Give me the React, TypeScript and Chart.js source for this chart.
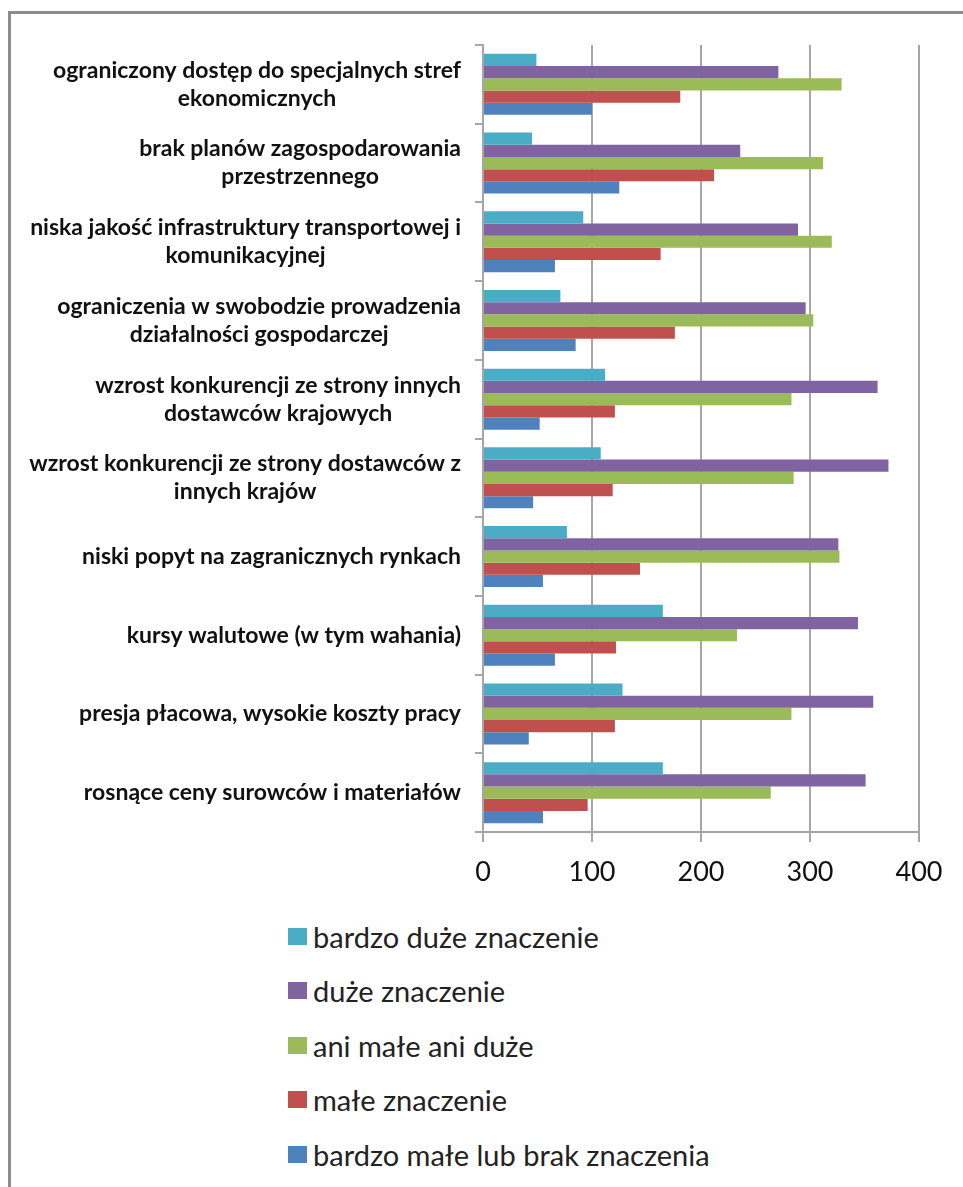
import React, { useEffect, useRef } from "react";
import { Chart, registerables } from "chart.js";

Chart.register(...registerables);

// Categories listed top to bottom, with their line breaks
const CATEGORY_LINES: string[][] = [
  ["ograniczony dostęp do specjalnych stref", "ekonomicznych"],
  ["brak planów zagospodarowania", "przestrzennego"],
  ["niska jakość infrastruktury transportowej i", "komunikacyjnej"],
  ["ograniczenia w swobodzie prowadzenia", "działalności gospodarczej"],
  ["wzrost konkurencji ze strony innych", "dostawców krajowych"],
  ["wzrost konkurencji ze strony dostawców z", "innych krajów"],
  ["niski popyt na zagranicznych rynkach"],
  ["kursy walutowe (w tym wahania)"],
  ["presja płacowa, wysokie koszty pracy"],
  ["rosnące ceny surowców i materiałów"],
];
const CATEGORIES = CATEGORY_LINES.map((l) => l.join(" "));

const SERIES_NAMES = [
  "bardzo duże znaczenie",
  "duże znaczenie",
  "ani małe ani duże",
  "małe znaczenie",
  "bardzo małe lub brak znaczenia",
];
const BARDZO_DUZE = [49, 45, 92, 71, 112, 108, 77, 165, 128, 165];
const DUZE = [271, 236, 289, 296, 362, 372, 326, 344, 358, 351];
const ANI_MALE_ANI_DUZE = [329, 312, 320, 303, 283, 285, 327, 233, 283, 264];
const MALE = [181, 212, 163, 176, 121, 119, 144, 122, 121, 96];
const BARDZO_MALE = [100, 125, 66, 85, 52, 46, 55, 66, 42, 55];
const SERIES_VALUES = [BARDZO_DUZE, DUZE, ANI_MALE_ANI_DUZE, MALE, BARDZO_MALE];
const SERIES_COLORS = ["#4BACC6", "#8064A2", "#9BBB59", "#C0504D", "#4F81BD"];

const X_MIN = 0;
const X_MAX = 400;
const X_STEP = 100;

const LABEL_FONT = "bold 23px Lato";
const LABEL_LINE_H = 28;
const GRID_COLOR = "#a6a6a6";

const categoryLabelPlugin = {
  id: "categoryLabels",
  afterDraw(chart: any) {
    const ctx = chart.ctx as CanvasRenderingContext2D;
    const yScale = chart.scales.y;
    ctx.save();
    ctx.font = LABEL_FONT;
    ctx.fillStyle = "#111";
    ctx.textBaseline = "middle";
    ctx.textAlign = "center";
    const rightEdge = yScale.right - 22;
    CATEGORY_LINES.forEach((lines, i) => {
      const cy = yScale.getPixelForValue(i);
      const w = Math.max(...lines.map((l) => ctx.measureText(l).width));
      const cx = rightEdge - w / 2;
      lines.forEach((ln, j) => {
        ctx.fillText(ln, cx, cy + (j - (lines.length - 1) / 2) * LABEL_LINE_H);
      });
    });
    ctx.restore();
  },
};

export default function App() {
  const canvasRef = useRef<HTMLCanvasElement | null>(null);

  useEffect(() => {
    if (!canvasRef.current) return;
    const chart = new Chart(canvasRef.current, {
      type: "bar",
      data: {
        labels: CATEGORIES,
        datasets: SERIES_NAMES.map((name, i) => ({
          label: name,
          data: SERIES_VALUES[i],
          backgroundColor: SERIES_COLORS[i],
          borderWidth: 0,
          barPercentage: 1.0,
          categoryPercentage: 0.775,
        })),
      },
      options: {
        indexAxis: "y",
        responsive: false,
        animation: false,
        devicePixelRatio: 1,
        layout: { padding: { left: 0, right: 44, top: 45, bottom: 0 } },
        plugins: {
          legend: { display: false },
          tooltip: { enabled: false },
        },
        scales: {
          x: {
            type: "linear",
            min: X_MIN,
            max: X_MAX,
            ticks: {
              stepSize: X_STEP,
              color: "#111",
              font: { family: "Lato", size: 27 },
              padding: 14,
            },
            grid: {
              color: GRID_COLOR,
              lineWidth: 2,
              drawTicks: true,
              tickLength: 10,
            },
            border: { display: true, color: GRID_COLOR, width: 2 },
            afterFit: (s: any) => {
              s.height = 68;
            },
          },
          y: {
            type: "category",
            offset: true,
            ticks: { display: false },
            grid: {
              offset: true,
              drawOnChartArea: false,
              drawTicks: true,
              tickLength: 8,
              color: GRID_COLOR,
              lineWidth: 2,
            },
            border: { display: true, color: GRID_COLOR, width: 2 },
            afterFit: (s: any) => {
              s.width = 483;
            },
          },
        },
      },
      plugins: [categoryLabelPlugin],
    } as any);
    return () => chart.destroy();
  }, []);

  return (
    <div style={{ position: "fixed", inset: 0, overflow: "hidden", background: "#fff" }}>
      <div
        style={{
          position: "absolute",
          left: 8,
          top: 11,
          width: 1000,
          height: 1300,
          borderLeft: "3px solid #8c8c8c",
          borderTop: "3px solid #8c8c8c",
        }}
      />
      <canvas
        ref={canvasRef}
        width={963}
        height={900}
        style={{ position: "absolute", left: 0, top: 0, width: 963, height: 900 }}
      />
      <div style={{ position: "absolute", left: 288, top: 909 }}>
        {SERIES_NAMES.map((name, i) => (
          <div
            key={name}
            style={{ display: "flex", alignItems: "center", height: 54.5 }}
          >
            <span
              style={{
                display: "inline-block",
                width: 19,
                height: 17,
                background: SERIES_COLORS[i],
                marginRight: 6,
              }}
            />
            <span style={{ fontFamily: "Lato", fontSize: 29, color: "#222", whiteSpace: "nowrap" }}>
              {name}
            </span>
          </div>
        ))}
      </div>
    </div>
  );
}
